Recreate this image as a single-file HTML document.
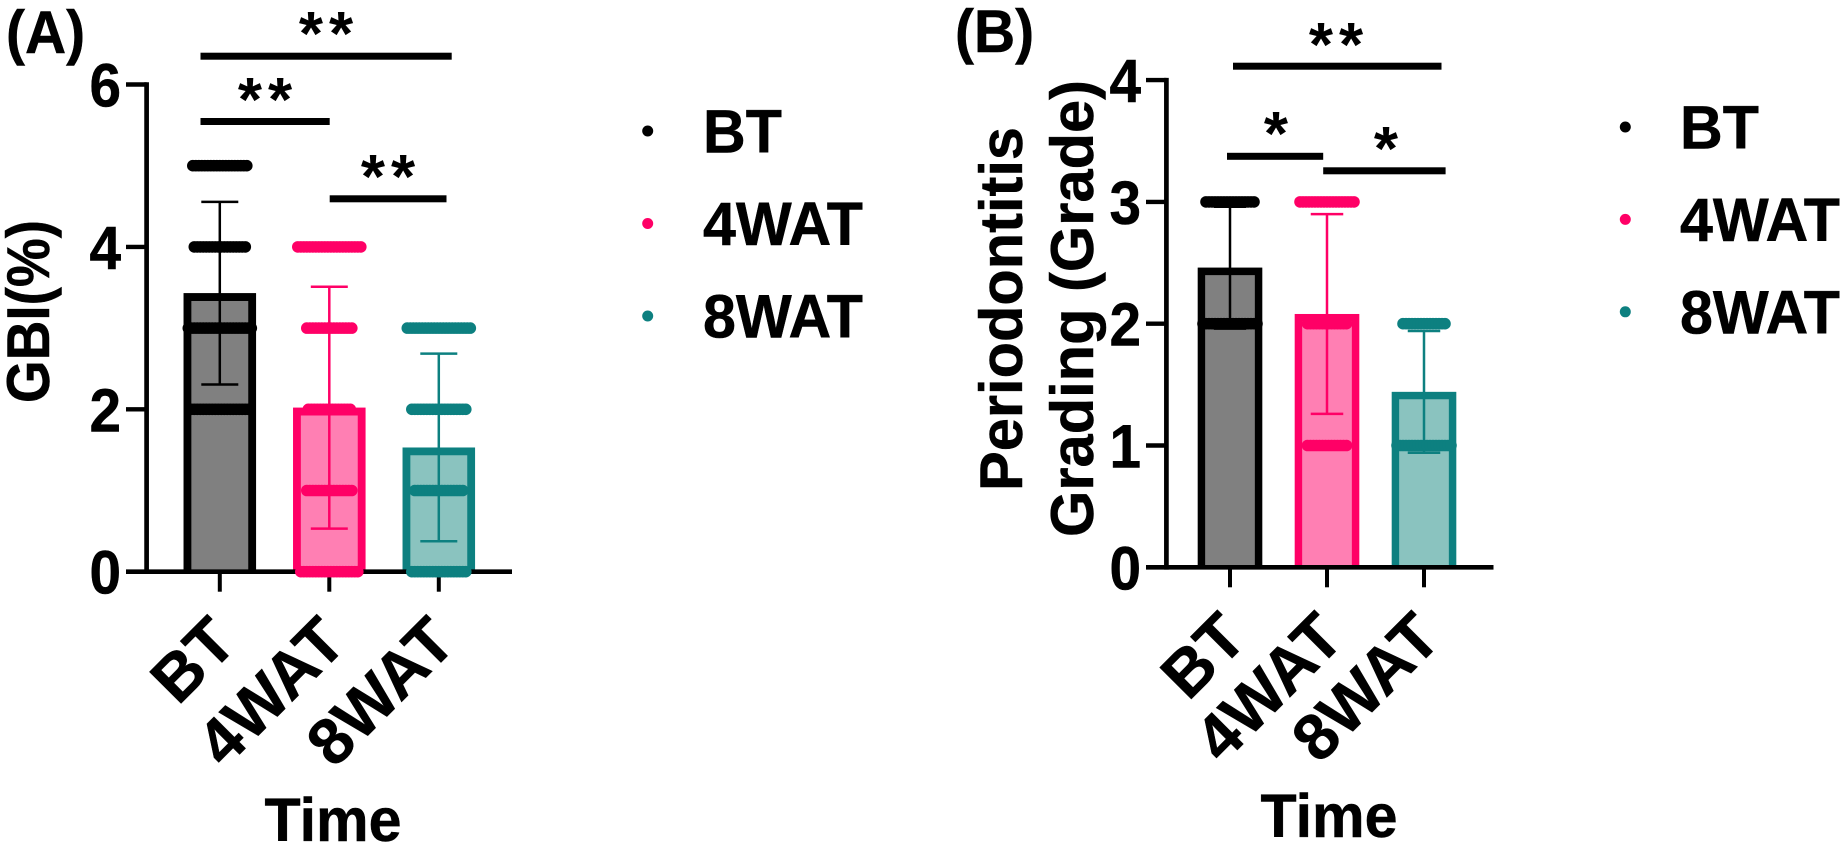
<!DOCTYPE html>
<html lang="en">
<head>
<meta charset="utf-8">
<title>GBI and Periodontitis Grading over time</title>
<style>
html,body{margin:0;padding:0;background:#fff;width:1843px;height:850px;overflow:hidden}
svg{display:block}
text{font-family:"Liberation Sans",Arial,sans-serif;font-weight:bold;fill:#000}
</style>
</head>
<body>
<svg id="figure" xmlns="http://www.w3.org/2000/svg" width="1843" height="850" viewBox="0 0 1843 850"></svg>
<script>
const groups = ['BT', '4WAT', '8WAT'];
const colors = ['#000000', '#ff0066', '#0d8080'];
const fills = ['#808080', '#ff7fb3', '#8ac3bf'];

const gbiTicks = [0, 2, 4, 6];
const gbiMeans = [3.43, 2.02, 1.53];
const gbiSds = [1.125, 1.49, 1.155];
const gbiRowValues = [0, 1, 2, 3, 4, 5];
const gbiCountsBT = [0, 0, 20, 22, 18, 19];
const gbiCounts4WAT = [20, 16, 15, 16, 22, 0];
const gbiCounts8WAT = [19, 17, 19, 22, 0, 0];

const gradeTicks = [0, 1, 2, 3, 4];
const gradeMeans = [2.46, 2.08, 1.44];
const gradeSds = [0.5, 0.82, 0.5];
const gradeRowValues = [0, 1, 2, 3];
const gradeCountsBT = [0, 0, 19, 17];
const gradeCounts4WAT = [0, 14, 14, 19];
const gradeCounts8WAT = [0, 19, 15, 0];

const NS = 'http://www.w3.org/2000/svg';
const root = document.getElementById('figure');

function make(tag, attrs, parent) {
  const el = document.createElementNS(NS, tag);
  for (const k in attrs) el.setAttribute(k, attrs[k]);
  (parent || root).appendChild(el);
  return el;
}

function hText(str, x, y, size, anchor, parent, sx) {
  const el = make('text', {
    transform: 'translate(' + x + ' ' + y + ') scale(' + (sx || 0.93) + ' 1)',
    'font-size': size,
    'text-anchor': anchor,
    stroke: '#000',
    'stroke-width': 0.5
  }, parent);
  el.textContent = str;
  return el;
}

function drawPanel(p) {
  const panel = make('g', {});
  
  

  const yScale = v => p.y0 - v * p.unit;
  const xScale = i => p.xStart + i * p.xStep;

  // bars
  groups.forEach((g, i) => {
    const cx = xScale(i);
    const left = cx - p.barW / 2;
    const top = yScale(p.means[i]);
    const sw = p.barStroke;
    const fill = make('rect', {
      x: left, y: top, width: p.barW, height: p.y0 - top, fill: fills[i]
    }, panel);
    
    
    const outline = make('path', {
      d: 'M' + (left + sw / 2) + ' ' + p.y0 + 'V' + (top + sw / 2) + 'H' + (left + p.barW - sw / 2) + 'V' + p.y0,
      fill: 'none', stroke: colors[i], 'stroke-width': sw
    }, panel);
    
    
  });

  // error bars
  groups.forEach((g, i) => {
    const cx = xScale(i);
    const hi = yScale(p.means[i] + p.sds[i]);
    const lo = yScale(p.means[i] - p.sds[i]);
    const hc = p.capW / 2;
    const err = make('path', {
      d: 'M' + cx + ' ' + hi + 'V' + lo + 'M' + (cx - hc) + ' ' + hi + 'H' + (cx + hc) + 'M' + (cx - hc) + ' ' + lo + 'H' + (cx + hc),
      fill: 'none', stroke: colors[i], 'stroke-width': 2.5
    }, panel);
    
    
  });

  // axes
  const yAxis = make('path', {
    d: 'M' + p.axisX + ' ' + (p.y0 + 2.3) + 'V' + (yScale(p.ticks[p.ticks.length - 1]) - 2.2),
    stroke: '#000', 'stroke-width': 4.7, fill: 'none'
  }, panel);
  
  

  const xAxis = make('path', {
    d: 'M' + p.tickLeft + ' ' + p.y0 + 'H' + p.axisEnd,
    stroke: '#000', 'stroke-width': 4.7, fill: 'none'
  }, panel);
  
  

  p.ticks.forEach(t => {
    const y = yScale(t);
    const tick = make('path', {
      d: 'M' + p.tickLeft + ' ' + y + 'H' + p.axisX, stroke: '#000', 'stroke-width': 4.4, fill: 'none'
    }, panel);
    
    
    const label = hText(String(t), p.tickLabelX, y + 22, 61, 'end', panel);
    
    
  });

  groups.forEach((g, i) => {
    const cx = xScale(i);
    const tick = make('path', {
      d: 'M' + cx + ' ' + p.y0 + 'V' + (p.y0 + 20), stroke: '#000', 'stroke-width': 4, fill: 'none'
    }, panel);
    
    
    const label = make('text', {
      transform: 'translate(' + (cx + 19.5) + ' ' + (p.y0 + 73.5) + ') rotate(-45)',
      'font-size': 65, 'text-anchor': 'end', stroke: '#000', 'stroke-width': 0.5
    }, panel);
    label.textContent = g;
    
    
  });

  // data points (swarm rows)
  const dotSpacing = 3;
  groups.forEach((g, i) => {
    p.counts[i].forEach((n, r) => {
      for (let k = 0; k < n; k++) {
        const dot = make('circle', {
          cx: xScale(i) + (k - (n - 1) / 2) * dotSpacing,
          cy: yScale(p.rows[r]),
          r: 5.8,
          fill: colors[i]
        }, panel);
        
        
      }
    });
  });

  // significance brackets
  p.sig.forEach(s => {
    const bar = make('rect', { x: s.x1, y: s.y, width: s.x2 - s.x1, height: 7, fill: '#000' }, panel);
    
    
    const star = make('text', {
      x: s.sx, y: s.sy, 'font-size': 62, 'text-anchor': 'middle', 'letter-spacing': s.stars.length > 1 ? 6 : 0
    }, panel);
    star.textContent = s.stars;
    
    
  });

  // legend
  groups.forEach((g, i) => {
    const dot = make('circle', {
      cx: p.legendDotX, cy: p.legendY + i * p.legendStep, r: 5.5, fill: colors[i]
    }, panel);
    
    
    const label = hText(g, p.legendTextX, p.legendY + i * p.legendStep + 21.5, 61, 'start', panel, 0.97);
    
    
  });

  // titles
  const panelLetter = hText(p.letter, p.letterX, p.letterY, 60, 'start', panel, 0.95);
  
  

  const xTitle = hText('Time', p.timeX, p.timeY, 61, 'middle', panel, 0.97);
  
  

  p.yTitle.forEach(line => {
    const t = make('text', {
      transform: 'translate(' + line.x + ' ' + line.y + ') rotate(-90)',
      'font-size': 60, 'text-anchor': 'middle', textLength: line.len, lengthAdjust: 'spacingAndGlyphs',
      stroke: '#000', 'stroke-width': 0.5
    }, panel);
    t.textContent = line.text;
    
    
  });
}

drawPanel({
  id: 'gbi', letter: '(A)', letterX: 6, letterY: 53,
  y0: 571.7, unit: 81.2, xStart: 219.8, xStep: 109.5,
  barW: 72.5, barStroke: 7.8, capW: 37,
  axisX: 146.6, tickLeft: 126, axisEnd: 512, tickLabelX: 121,
  ticks: gbiTicks, means: gbiMeans, sds: gbiSds, rows: gbiRowValues,
  counts: [gbiCountsBT, gbiCounts4WAT, gbiCounts8WAT],
  sig: [
    { x1: 200.5, x2: 451.7, y: 52.7, stars: '**', sx: 329, sy: 55 },
    { x1: 200.5, x2: 329.7, y: 118, stars: '**', sx: 268, sy: 121 },
    { x1: 329.7, x2: 446.5, y: 195.3, stars: '**', sx: 391, sy: 198 }
  ],
  legendDotX: 647.7, legendY: 131, legendStep: 92.5, legendTextX: 703,
  timeX: 333, timeY: 841,
  yTitle: [{ text: 'GBI(%)', x: 49, y: 311.5, len: 183 }]
});

drawPanel({
  id: 'grade', letter: '(B)', letterX: 955, letterY: 52,
  y0: 567.3, unit: 121.8, xStart: 1230, xStep: 97,
  barW: 64.5, barStroke: 7.4, capW: 32.5,
  axisX: 1166.4, tickLeft: 1146, axisEnd: 1493.5, tickLabelX: 1141,
  ticks: gradeTicks, means: gradeMeans, sds: gradeSds, rows: gradeRowValues,
  counts: [gradeCountsBT, gradeCounts4WAT, gradeCounts8WAT],
  sig: [
    { x1: 1233, x2: 1441.5, y: 62.7, stars: '**', sx: 1339, sy: 66 },
    { x1: 1227, x2: 1323.2, y: 152.8, stars: '*', sx: 1276, sy: 155 },
    { x1: 1323.2, x2: 1445.6, y: 167.3, stars: '*', sx: 1386, sy: 170 }
  ],
  legendDotX: 1625.3, legendY: 127, legendStep: 92.4, legendTextX: 1680,
  timeX: 1329, timeY: 837,
  yTitle: [
    { text: 'Periodontitis', x: 1022, y: 309, len: 364 },
    { text: 'Grading (Grade)', x: 1093, y: 308.5, len: 457 }
  ]
});
</script>
</body>
</html>
